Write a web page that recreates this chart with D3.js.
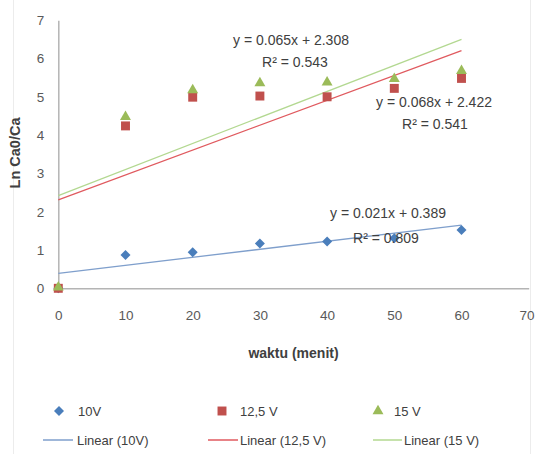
<!DOCTYPE html>
<html><head><meta charset="utf-8">
<script src="https://cdn.jsdelivr.net/npm/d3@7"></script>
<style>html,body{margin:0;padding:0;background:#fff;}svg{display:block;}</style>
</head><body>
<script>
// ---- data ----
const times = [0, 10, 20, 30, 40, 50, 60];
const seriesNames = ["10V", "12,5 V", "15 V"];
const v10 = [0, 0.87, 0.94, 1.17, 1.22, 1.31, 1.52];
const v125 = [0, 4.24, 4.99, 5.02, 5.0, 5.22, 5.48];
const v15 = [0, 4.45, 5.15, 5.33, 5.35, 5.44, 5.65];
const slopes = [0.021, 0.065, 0.068];
const intercepts = [0.389, 2.308, 2.422];
const r2s = ["0.809", "0.543", "0.541"];
const xTicks = [0, 10, 20, 30, 40, 50, 60, 70];
const yTicks = [0, 1, 2, 3, 4, 5, 6, 7];
const xTitle = "waktu (menit)";
const yTitle = "Ln Ca0/Ca";

const W = 535, H = 454;
const colors = ["#4a7ebb", "#c0504d", "#9bbb59"];
const lineColors = ["#7f9fcc", "#e05a5f", "#b3d891"];
const font = "'Liberation Sans', Arial, sans-serif";

const svg = d3.select("body").append("svg").attr("width", W).attr("height", H)
  .style("font-family", font);

// faint chart border
svg.append("rect").attr("x", 13.5).attr("y", -2).attr("width", 517).attr("height", H + 4)
  .attr("fill", "none").attr("stroke", "#ececec");

const x = d3.scaleLinear().domain([0, 70]).range([58.3, 528.7]);
const y = d3.scaleLinear().domain([0, 7]).range([288.3, 20.2]);

// axes
const xAxis = svg.append("g").attr("transform", `translate(0,${y(0)})`)
  .call(d3.axisBottom(x).tickValues(xTicks).tickFormat(d3.format("d")).tickSize(0).tickPadding(22));
const yAxis = svg.append("g").attr("transform", `translate(${x(0)},0)`)
  .call(d3.axisLeft(y).tickValues(yTicks).tickFormat(d3.format("d")).tickSize(0).tickPadding(14));
[xAxis, yAxis].forEach(g => {
  g.select(".domain").attr("stroke", "#b4b4b4").attr("stroke-width", 1.5);
  g.selectAll("text").attr("fill", "#595959").style("font-size", "13.5px").style("font-family", font);
});
// keep the last x label inside the picture
xAxis.selectAll(".tick").filter(d => d === 70).select("text")
  .attr("text-anchor", "end").attr("x", W - 1 - x(70));

// trend lines
const allVals = [v10, v125, v15];
const line = d3.line().x(d => x(d[0])).y(d => y(d[1]));
slopes.forEach((m, i) => {
  const x0 = times[0], x1 = times[times.length - 1];
  svg.append("path").datum([[x0, intercepts[i] + m * x0], [x1, intercepts[i] + m * x1]])
    .attr("d", line).attr("fill", "none").attr("stroke", lineColors[i]).attr("stroke-width", 1.3);
});

// markers
const sym = [d3.symbolSquare, d3.symbolSquare, d3.symbolTriangle];
const symSize = [50, 80, 52];
const rot = [45, 0, 0];
allVals.forEach((vals, i) => {
  svg.append("g").selectAll("path").data(vals).join("path")
    .attr("transform", (d, j) => `translate(${x(times[j])},${y(d) + (i === 2 ? -1 : 0)}) rotate(${rot[i]})`)
    .attr("d", d3.symbol().type(sym[i]).size(symSize[i]))
    .attr("fill", colors[i]);
});

// equation labels
const eqPos = [[388, 213, 386, 238], [291, 40, 295, 62], [434, 102, 435, 124]];
const labG = svg.append("g").style("font-size", "14px").attr("fill", "#404040");
slopes.forEach((m, i) => {
  const p = eqPos[i];
  labG.append("text").attr("x", p[0]).attr("y", p[1]).attr("dy", "0.35em")
    .attr("text-anchor", "middle").text(`y = ${m.toFixed(3)}x + ${intercepts[i].toFixed(3)}`);
  labG.append("text").attr("x", p[2]).attr("y", p[3]).attr("dy", "0.35em")
    .attr("text-anchor", "middle").text(`R² = ${r2s[i]}`);
});

// axis titles
svg.append("text").attr("x", (x(0) + x(70)) / 2).attr("y", 353).attr("dy", "0.35em")
  .attr("text-anchor", "middle").style("font-size", "14px").style("font-weight", "bold")
  .attr("fill", "#404040").text(xTitle);
svg.append("text").attr("transform", "translate(15,153) rotate(-90)").attr("dy", "0.35em")
  .attr("text-anchor", "middle").style("font-size", "14.5px").style("font-weight", "bold")
  .attr("fill", "#404040").text(yTitle);

// legend
const legX = [59, 222, 378];
const legTextX = [78, 240, 394];
const lineX = [[43, 73], [208, 238], [373, 402]];
const lineTextX = [77, 240, 404];
const legG = svg.append("g").style("font-size", "13px").attr("fill", "#404040");
seriesNames.forEach((n, i) => {
  legG.append("path").attr("transform", `translate(${legX[i]},411) rotate(${rot[i]})`)
    .attr("d", d3.symbol().type(sym[i]).size(symSize[i])).attr("fill", colors[i]);
  legG.append("text").attr("x", legTextX[i]).attr("y", 411).attr("dy", "0.35em").text(n);
  legG.append("line").attr("x1", lineX[i][0]).attr("x2", lineX[i][1]).attr("y1", 440).attr("y2", 440)
    .attr("stroke", lineColors[i]).attr("stroke-width", 1.5);
  legG.append("text").attr("x", lineTextX[i]).attr("y", 440).attr("dy", "0.35em").text(`Linear (${n})`);
});
</script>
</body></html>
